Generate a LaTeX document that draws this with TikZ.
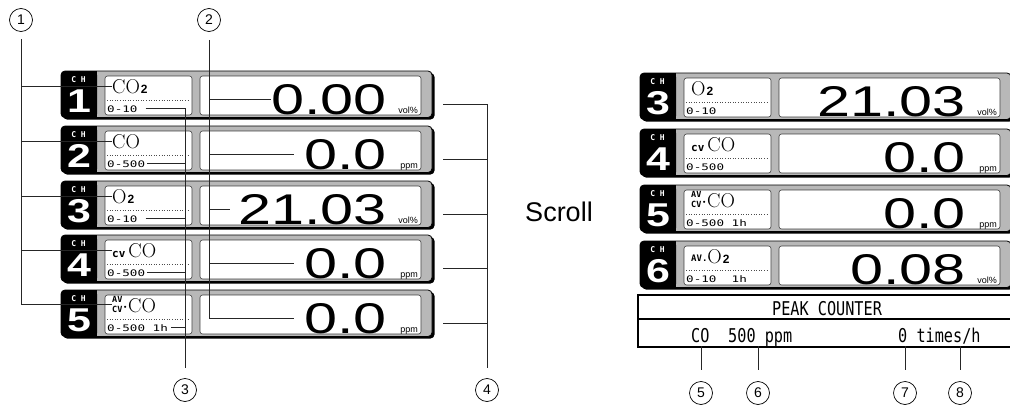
\documentclass[tikz,border=0pt]{standalone}
\usepackage{fontspec}
\usepackage{graphicx}
\newfontfamily\arialfont{Liberation Sans}
\newfontfamily\lcdfont{DejaVu Sans Mono}
\begin{document}
\begin{tikzpicture}[x=1pt,y=-1pt]
    \newcommand{\lft}{61}   % left edge of the left panel
    \newcommand{\rgt}{640}  % left edge of the scrolled panel
    \newcommand{\two}{\kern1pt{\arialfont\bfseries\fontsize{12}{12}\selectfont 2}}
    \newcommand{\cv}{{\lcdfont\bfseries\fontsize{11}{11}\selectfont cv}\kern3pt}
    \newcommand{\avcv}{{\lcdfont\bfseries\fontsize{8.5}{7}\selectfont\shortstack{AV\\CV}}}
    \newcommand{\av}{\raisebox{2pt}{\lcdfont\bfseries\fontsize{9}{9}\selectfont AV.}}

    % styles of the display
    \tikzset{
        rowframe/.style={draw=black, line width=0.8pt, fill=black!28, rounded corners=4pt},
        inbox/.style={draw=black!75, line width=0.6pt, fill=white, rounded corners=2.5pt},
        leader/.style={draw=black!85, line width=0.8pt},
        callout/.style={circle, draw, line width=0.7pt, minimum size=23pt, inner sep=0pt,
            font=\arialfont\fontsize{14}{14}\selectfont},
        chlbl/.style={text=white, inner sep=0pt, font=\lcdfont\bfseries\fontsize{8}{8}\selectfont},
        chnum/.style={text=white, inner sep=0pt, anchor=base,
            font=\arialfont\bfseries\fontsize{33}{33}\selectfont},
        nametxt/.style={inner sep=0pt, anchor=base west, font=\fontsize{20}{20}\selectfont},
        rangetxt/.style={inner sep=0pt, anchor=base west, font=\lcdfont\fontsize{9}{9}\selectfont},
        valtxt/.style={inner sep=0pt, anchor=base east, font=\arialfont\fontsize{43}{43}\selectfont},
        unittxt/.style={inner sep=0pt, anchor=base east, font=\arialfont\fontsize{9}{9}\selectfont},
        peaktxt/.style={inner sep=0pt, font=\lcdfont\fontsize{19}{19}\selectfont}
    }

    % one channel line: id, x, y, channel, gas, range, reading, unit
    \newcommand{\chrow}[8]{
        \begin{scope}[shift={(#2,#3)}]
            % shadow and frame
            \fill[black, rounded corners=4pt] (2,2) rectangle (373.5,48.5);
            \draw[rowframe] (0,0) rectangle (371,46.5);
            % channel tag
            \fill[black, rounded corners=4pt] (0,0) rectangle (36,47);
            \fill[black] (20,0) rectangle (36,47);
            \node[chlbl] (tag#1) at (17.5,9) {C~H};
            \node[chnum] (ch#1) at (18,41) {\scalebox{1.3}[1]{#4}};
            % gas and range
            \draw[inbox] (44,5) rectangle (131,44);
            \draw[black!70, dotted, line width=0.6pt] (46,29) -- (128,29);
            \node[nametxt] (name#1) at (51,22) {#5};
            \node[rangetxt] (range#1) at (46,41) {\scalebox{1.4}[1]{#6}};
            % reading
            \draw[inbox] (139,5) rectangle (360,44);
            \node[valtxt] (val#1) at (326,43.5) {\scalebox{1.38}[1]{#7}};
            \node[unittxt] (unit#1) at (357,42) {#8};
            \coordinate (tip#1) at (382,33);
        \end{scope}
    }

    \useasboundingbox (0,0) rectangle (1010,407);
    \clip (0,0) rectangle (1010,407);

    % left panel
    \chrow{L1}{\lft}{71}{1}{CO\two}{0-10}{0.00}{vol\%}
    \chrow{L2}{\lft}{126}{2}{CO}{0-500}{0.0}{ppm}
    \chrow{L3}{\lft}{181}{3}{O\two}{0-10}{21.03}{vol\%}
    \chrow{L4}{\lft}{235}{4}{\cv CO}{0-500}{0.0}{ppm}
    \chrow{L5}{\lft}{290}{5}{\avcv$\cdot$CO}{0-500~1h}{0.0}{ppm}

    % right panel
    \chrow{R3}{\rgt}{73}{3}{O\two}{0-10}{21.03}{vol\%}
    \chrow{R4}{\rgt}{129}{4}{\cv CO}{0-500}{0.0}{ppm}
    \chrow{R5}{\rgt}{185}{5}{\avcv$\cdot$CO}{0-500~1h}{0.0}{ppm}
    \chrow{R6}{\rgt}{241}{6}{\av O\two}{0-10~~1h}{0.08}{vol\%}

    % peak counter
    \draw[line width=2pt] (638,295) rectangle (1018,347);
    \draw[line width=1.2pt] (638,319) -- (1018,319);
    \coordinate (pkbot) at (0,346);
    \node[peaktxt, anchor=base] (pktitle) at (827,315) {\scalebox{0.8}[1]{PEAK COUNTER}};
    \node[peaktxt, anchor=base west] (pkgas) at (691,342) {\scalebox{0.8}[1]{CO}};
    \node[peaktxt, anchor=base west] (pklevel) at (728,342) {\scalebox{0.8}[1]{500 ppm}};
    \node[peaktxt, anchor=base west] (pkcount) at (898,342) {\scalebox{0.8}[1]{0 times/h}};

    \node[font=\arialfont\fontsize{27}{27}\selectfont] (scroll) at (559,212) {Scroll};

    % callouts
    \node[callout] (c1) at (21,20) {1};
    \node[callout] (c2) at (209,20) {2};
    \node[callout] (c3) at (185,390) {3};
    \node[callout] (c4) at (487,390) {4};
    \node[callout] (c5) at (701,393) {5};
    \node[callout] (c6) at (758,393) {6};
    \node[callout] (c7) at (905,393) {7};
    \node[callout] (c8) at (960,393) {8};

    % 1: gas names
    \draw[leader, shorten <=7pt] (c1.south) -- (c1.south |- nameL5.west) -- (nameL5.west);
    \draw[leader] (c1.south |- nameL1.west) -- (nameL1.west);
    \draw[leader] (c1.south |- nameL2.west) -- (nameL2.west);
    \draw[leader] (c1.south |- nameL3.west) -- (nameL3.west);
    \draw[leader] (c1.south |- nameL4.west) -- (nameL4.west);

    % 2: readings
    \draw[leader, shorten <=8pt] (c2.south) -- (c2.south |- valL5.west) -- ([xshift=-10pt]valL5.west);
    \draw[leader] (c2.south |- valL1.west) -- (valL1.west);
    \draw[leader, shorten >=10pt] (c2.south |- valL2.west) -- (valL2.west);
    \draw[leader, shorten >=8pt] (c2.south |- valL3.west) -- (valL3.west);
    \draw[leader, shorten >=10pt] (c2.south |- valL4.west) -- (valL4.west);

    % 3: ranges
    \draw[leader, shorten >=10pt] ([xshift=8pt]rangeL1.east) -- (c3.north |- rangeL1.east) -- (c3.north);
    \draw[leader] ([xshift=2pt]rangeL2.east) -- (c3.north |- rangeL2.east);
    \draw[leader] ([xshift=8pt]rangeL3.east) -- (c3.north |- rangeL3.east);
    \draw[leader] ([xshift=2pt]rangeL4.east) -- (c3.north |- rangeL4.east);
    \draw[leader] ([xshift=3pt]rangeL5.east) -- (c3.north |- rangeL5.east);

    % 4: units
    \draw[leader, shorten >=10pt] (tipL1) -- (c4.north |- tipL1) -- (c4.north);
    \draw[leader] (tipL2) -- (c4.north |- tipL2);
    \draw[leader] (tipL3) -- (c4.north |- tipL3);
    \draw[leader] (tipL4) -- (c4.north |- tipL4);
    \draw[leader] (tipL5) -- (c4.north |- tipL5);

    % 5 to 8: peak counter fields
    \draw[leader, shorten >=11pt] (c5.north |- pkbot) -- (c5.north);
    \draw[leader, shorten >=11pt] (c6.north |- pkbot) -- (c6.north);
    \draw[leader, shorten >=11pt] (c7.north |- pkbot) -- (c7.north);
    \draw[leader, shorten >=11pt] (c8.north |- pkbot) -- (c8.north);
\end{tikzpicture}
\end{document}
